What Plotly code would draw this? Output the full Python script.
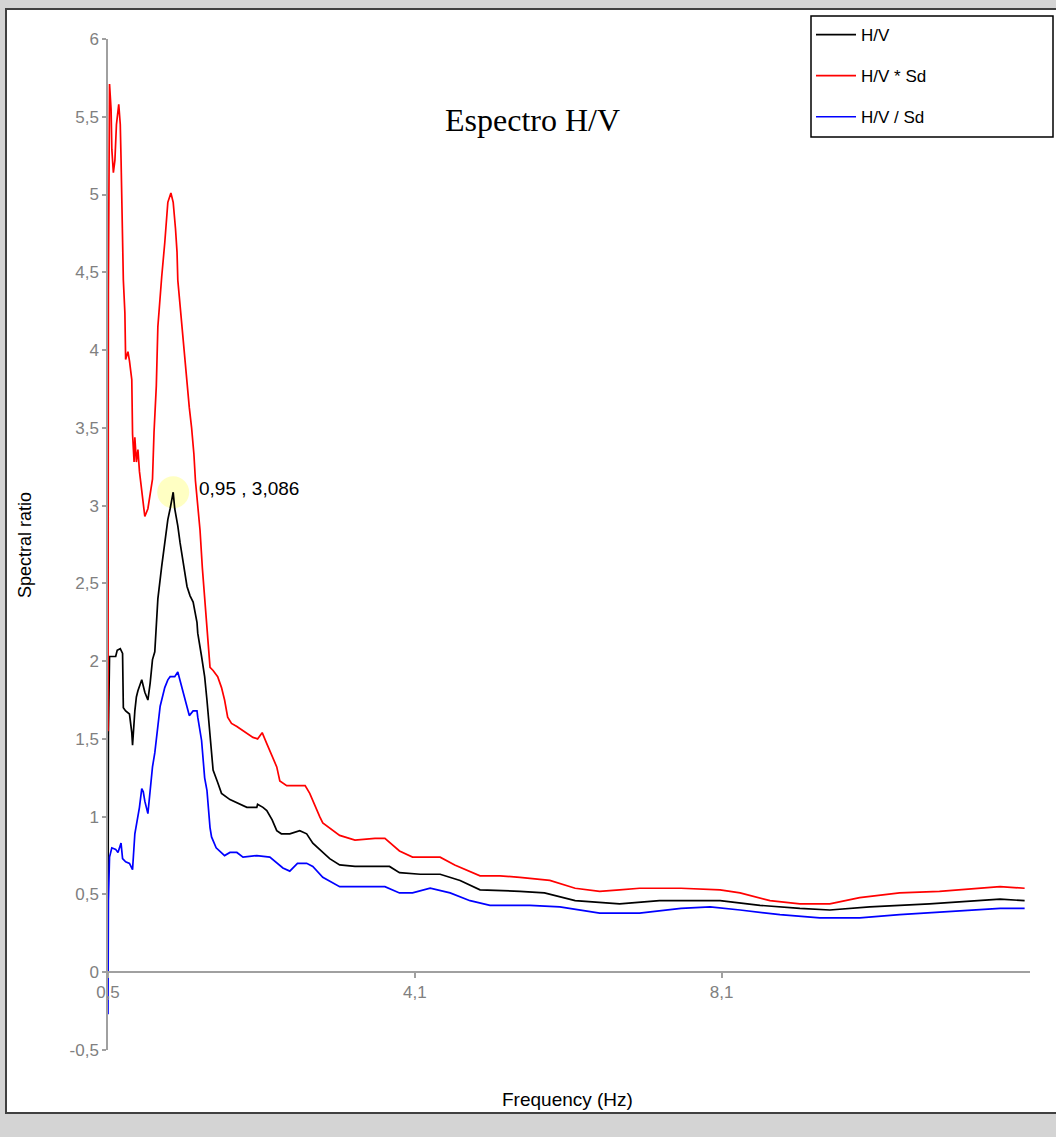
import plotly.graph_objects as go

# ---------------- data ----------------
freq_hv = [0.10, 0.105, 0.12, 0.15, 0.20, 0.22, 0.26, 0.29, 0.30, 0.33, 0.38, 0.41, 0.42, 0.45,
           0.47, 0.49, 0.54, 0.58, 0.62, 0.65, 0.68, 0.71, 0.73, 0.75, 0.80, 0.84, 0.88, 0.91,
           0.95, 0.97, 1.01, 1.04, 1.10, 1.13, 1.17, 1.21, 1.26, 1.27, 1.32, 1.36, 1.39, 1.42,
           1.45, 1.47, 1.53, 1.58, 1.69, 1.78, 1.91, 2.04, 2.05, 2.12, 2.17, 2.24, 2.30, 2.36,
           2.47, 2.60, 2.69, 2.77, 2.90, 2.99, 3.12, 3.32, 3.77, 3.90, 4.17, 4.43, 4.69, 4.95,
           5.47, 5.79, 6.19, 6.77, 7.29, 8.08, 8.60, 9.12, 9.51, 10.03, 10.81, 11.47, 11.73, 12.05]
hv = [0.00, 1.52, 2.03, 2.03, 2.03, 2.07, 2.08, 2.05, 1.70, 1.68, 1.66, 1.54, 1.46, 1.68,
      1.77, 1.81, 1.88, 1.80, 1.75, 1.86, 2.01, 2.06, 2.20, 2.40, 2.61, 2.76, 2.91, 2.98,
      3.086, 2.98, 2.87, 2.76, 2.57, 2.48, 2.42, 2.38, 2.25, 2.18, 2.03, 1.90, 1.75, 1.58,
      1.37, 1.30, 1.22, 1.15, 1.11, 1.09, 1.06, 1.06, 1.08, 1.06, 1.04, 0.98, 0.91, 0.89,
      0.89, 0.91, 0.89, 0.83, 0.77, 0.73, 0.69, 0.68, 0.68, 0.64, 0.63, 0.63, 0.59, 0.53,
      0.52, 0.51, 0.46, 0.44, 0.46, 0.46, 0.43, 0.41, 0.40, 0.42, 0.44, 0.46, 0.47, 0.46]

freq_mul = [0.10, 0.105, 0.12, 0.14, 0.15, 0.17, 0.19, 0.21, 0.24, 0.26, 0.27, 0.29, 0.30, 0.32,
            0.33, 0.36, 0.38, 0.41, 0.42, 0.44, 0.45, 0.47, 0.49, 0.51, 0.54, 0.58, 0.62, 0.66,
            0.68, 0.70, 0.73, 0.75, 0.78, 0.80, 0.84, 0.86, 0.88, 0.92, 0.95, 0.98, 1.00, 1.01,
            1.04, 1.06, 1.09, 1.13, 1.16, 1.19, 1.22, 1.24, 1.27, 1.30, 1.33, 1.36, 1.39, 1.43,
            1.47, 1.53, 1.58, 1.62, 1.66, 1.71, 1.78, 1.91, 1.99, 2.05, 2.11, 2.17, 2.30, 2.34,
            2.43, 2.67, 2.73, 2.86, 2.90, 3.12, 3.32, 3.58, 3.71, 3.90, 4.07, 4.43, 4.62, 4.95,
            5.21, 5.47, 5.86, 6.19, 6.51, 6.77, 7.03, 7.57, 8.08, 8.34, 8.73, 9.12, 9.51, 9.90,
            10.42, 10.94, 11.47, 11.73, 12.05]
hv_mul_sd = [1.55, 4.39, 5.71, 5.55, 5.29, 5.14, 5.22, 5.45, 5.58, 5.45, 5.23, 4.82, 4.45, 4.24,
             3.94, 3.99, 3.93, 3.81, 3.46, 3.28, 3.44, 3.28, 3.36, 3.22, 3.10, 2.93, 2.98, 3.10,
             3.17, 3.47, 3.77, 4.15, 4.37, 4.47, 4.69, 4.86, 4.95, 5.01, 4.95, 4.78, 4.63, 4.45,
             4.28, 4.18, 4.03, 3.80, 3.63, 3.50, 3.33, 3.16, 3.00, 2.84, 2.60, 2.39, 2.22, 1.96,
             1.94, 1.90, 1.83, 1.75, 1.64, 1.60, 1.58, 1.54, 1.51, 1.50, 1.54, 1.47, 1.32, 1.23,
             1.20, 1.20, 1.15, 1.00, 0.96, 0.88, 0.85, 0.86, 0.86, 0.78, 0.74, 0.74, 0.69, 0.62,
             0.62, 0.61, 0.59, 0.54, 0.52, 0.53, 0.54, 0.54, 0.53, 0.51, 0.46, 0.44, 0.44, 0.48,
             0.51, 0.52, 0.54, 0.55, 0.54]

freq_div = [0.10, 0.105, 0.12, 0.15, 0.20, 0.23, 0.27, 0.29, 0.33, 0.38, 0.42, 0.45, 0.51, 0.54,
            0.56, 0.58, 0.62, 0.65, 0.68, 0.71, 0.75, 0.78, 0.84, 0.88, 0.91, 0.97, 1.01, 1.06,
            1.13, 1.16, 1.21, 1.26, 1.27, 1.32, 1.36, 1.39, 1.43, 1.45, 1.51, 1.58, 1.62, 1.69,
            1.78, 1.86, 2.04, 2.21, 2.30, 2.38, 2.47, 2.57, 2.69, 2.77, 2.90, 3.12, 3.19, 3.71,
            3.90, 4.07, 4.30, 4.56, 4.82, 5.08, 5.60, 5.99, 6.51, 7.03, 7.57, 7.95, 8.34, 8.86,
            9.38, 9.90, 10.42, 11.08, 11.73, 12.05]
hv_div_sd = [-0.27, 0.46, 0.74, 0.80, 0.79, 0.77, 0.83, 0.73, 0.71, 0.70, 0.66, 0.89, 1.06, 1.18,
             1.16, 1.10, 1.02, 1.17, 1.32, 1.41, 1.58, 1.71, 1.83, 1.88, 1.90, 1.90, 1.93, 1.83,
             1.71, 1.65, 1.68, 1.68, 1.64, 1.49, 1.25, 1.17, 0.93, 0.87, 0.80, 0.77, 0.75, 0.77,
             0.77, 0.74, 0.75, 0.74, 0.70, 0.67, 0.65, 0.70, 0.70, 0.68, 0.61, 0.55, 0.55, 0.55,
             0.51, 0.51, 0.54, 0.51, 0.46, 0.43, 0.43, 0.42, 0.38, 0.38, 0.41, 0.42, 0.40, 0.37,
             0.35, 0.35, 0.37, 0.39, 0.41, 0.41]

series_names = ["H/V", "H/V * Sd", "H/V / Sd"]
series_colors = ["#000000", "#ff0000", "#0000ff"]

peak_freq = 0.95
peak_value = 3.086

x_tick_vals = [0.1, 4.1, 8.1]
x_tick_text = ["0,5", "4,1", "8,1"]
y_tick_vals = [-0.5, 0, 0.5, 1, 1.5, 2, 2.5, 3, 3.5, 4, 4.5, 5, 5.5, 6]

title_text = "Espectro H/V"
x_title = "Frequency (Hz)"
y_title = "Spectral ratio"


def comma(v):
    s = ("%g" % v)
    return s.replace(".", ",")


# ---------------- layout geometry ----------------
W, H = 1056, 1137
ML, MR, MT, MB = 108, 26, 39, 87
PW = W - ML - MR
PH = H - MT - MB


def px(xp):
    return (xp - ML) / PW


def py(yp):
    return (H - MB - yp) / PH


fig = go.Figure()

# highlight marker at the peak
fig.add_trace(go.Scatter(
    x=[peak_freq], y=[peak_value], mode="markers",
    marker=dict(size=32, color="rgba(255,255,180,0.8)", line=dict(width=0)),
    showlegend=False, hoverinfo="skip"))

for xs, ys, name, col in zip([freq_hv, freq_mul, freq_div],
                             [hv, hv_mul_sd, hv_div_sd],
                             series_names, series_colors):
    fig.add_trace(go.Scatter(x=xs, y=ys, mode="lines", name=name, legendgroup=name,
                             line=dict(color=col, width=1.7)))

sans = "Liberation Sans, Arial, sans-serif"
axis_gray = "#a0a0a0"
text_gray = "#808080"

fig.update_layout(
    width=W, height=H,
    margin=dict(l=ML, r=MR, t=MT, b=MB, pad=0),
    paper_bgcolor="#d4d4d4",
    plot_bgcolor="rgba(0,0,0,0)",
    font=dict(family=sans, size=16, color="#000000"),
    showlegend=True,
    legend=dict(x=px(811), y=py(17), xanchor="left", yanchor="top",
                bgcolor="rgba(0,0,0,0)", borderwidth=0,
                font=dict(family=sans, size=17, color="#000000"),
                itemwidth=40, tracegroupgap=16, traceorder="grouped"),
    xaxis=dict(range=[0.1, 12.12], anchor="free", position=0.5 / 6.5,
               showline=True, linecolor=axis_gray, linewidth=1.5,
               showgrid=False, zeroline=False,
               ticks="outside", ticklen=5, tickcolor=axis_gray, tickwidth=1.5,
               tickvals=x_tick_vals, ticktext=x_tick_text,
               tickfont=dict(family=sans, size=17, color=text_gray)),
    yaxis=dict(range=[-0.5, 6], showline=True, linecolor=axis_gray, linewidth=1.5,
               showgrid=False, zeroline=False,
               ticks="outside", ticklen=4, tickcolor=axis_gray, tickwidth=1.5,
               tickvals=y_tick_vals, ticktext=[comma(v) for v in y_tick_vals],
               tickfont=dict(family=sans, size=17, color=text_gray)),
    shapes=[
        # outer white panel with dark border
        dict(type="rect", xref="paper", yref="paper",
             x0=px(6), x1=px(1070), y0=py(1113), y1=py(9),
             fillcolor="#ffffff", line=dict(color="#404040", width=2), layer="below"),
        # legend box
        dict(type="rect", xref="paper", yref="paper",
             x0=px(811), x1=px(1053), y0=py(137), y1=py(16),
             fillcolor="#ffffff", line=dict(color="#000000", width=1.5), layer="above"),
    ],
    annotations=[
        dict(text=title_text, xref="paper", yref="paper", x=px(532), y=py(120),
             xanchor="center", yanchor="middle", showarrow=False,
             font=dict(family="Liberation Serif, Times New Roman, serif", size=32, color="#000000")),
        dict(text=x_title, xref="paper", yref="paper", x=px(567), y=py(1099),
             xanchor="center", yanchor="middle", showarrow=False,
             font=dict(family=sans, size=19, color="#000000")),
        dict(text=y_title, xref="paper", yref="paper", x=px(25), y=py(545),
             xanchor="center", yanchor="middle", showarrow=False, textangle=-90,
             font=dict(family=sans, size=18, color="#000000")),
        dict(text=comma(peak_freq) + " , " + comma(peak_value), xref="x", yref="y",
             x=peak_freq, y=peak_value, xanchor="left", yanchor="middle",
             xshift=24, yshift=4, showarrow=False,
             font=dict(family=sans, size=19, color="#000000")),
    ],
)

fig.write_html("out.html", config={"displayModeBar": False},
               post_script="document.body.style.margin='0';")
